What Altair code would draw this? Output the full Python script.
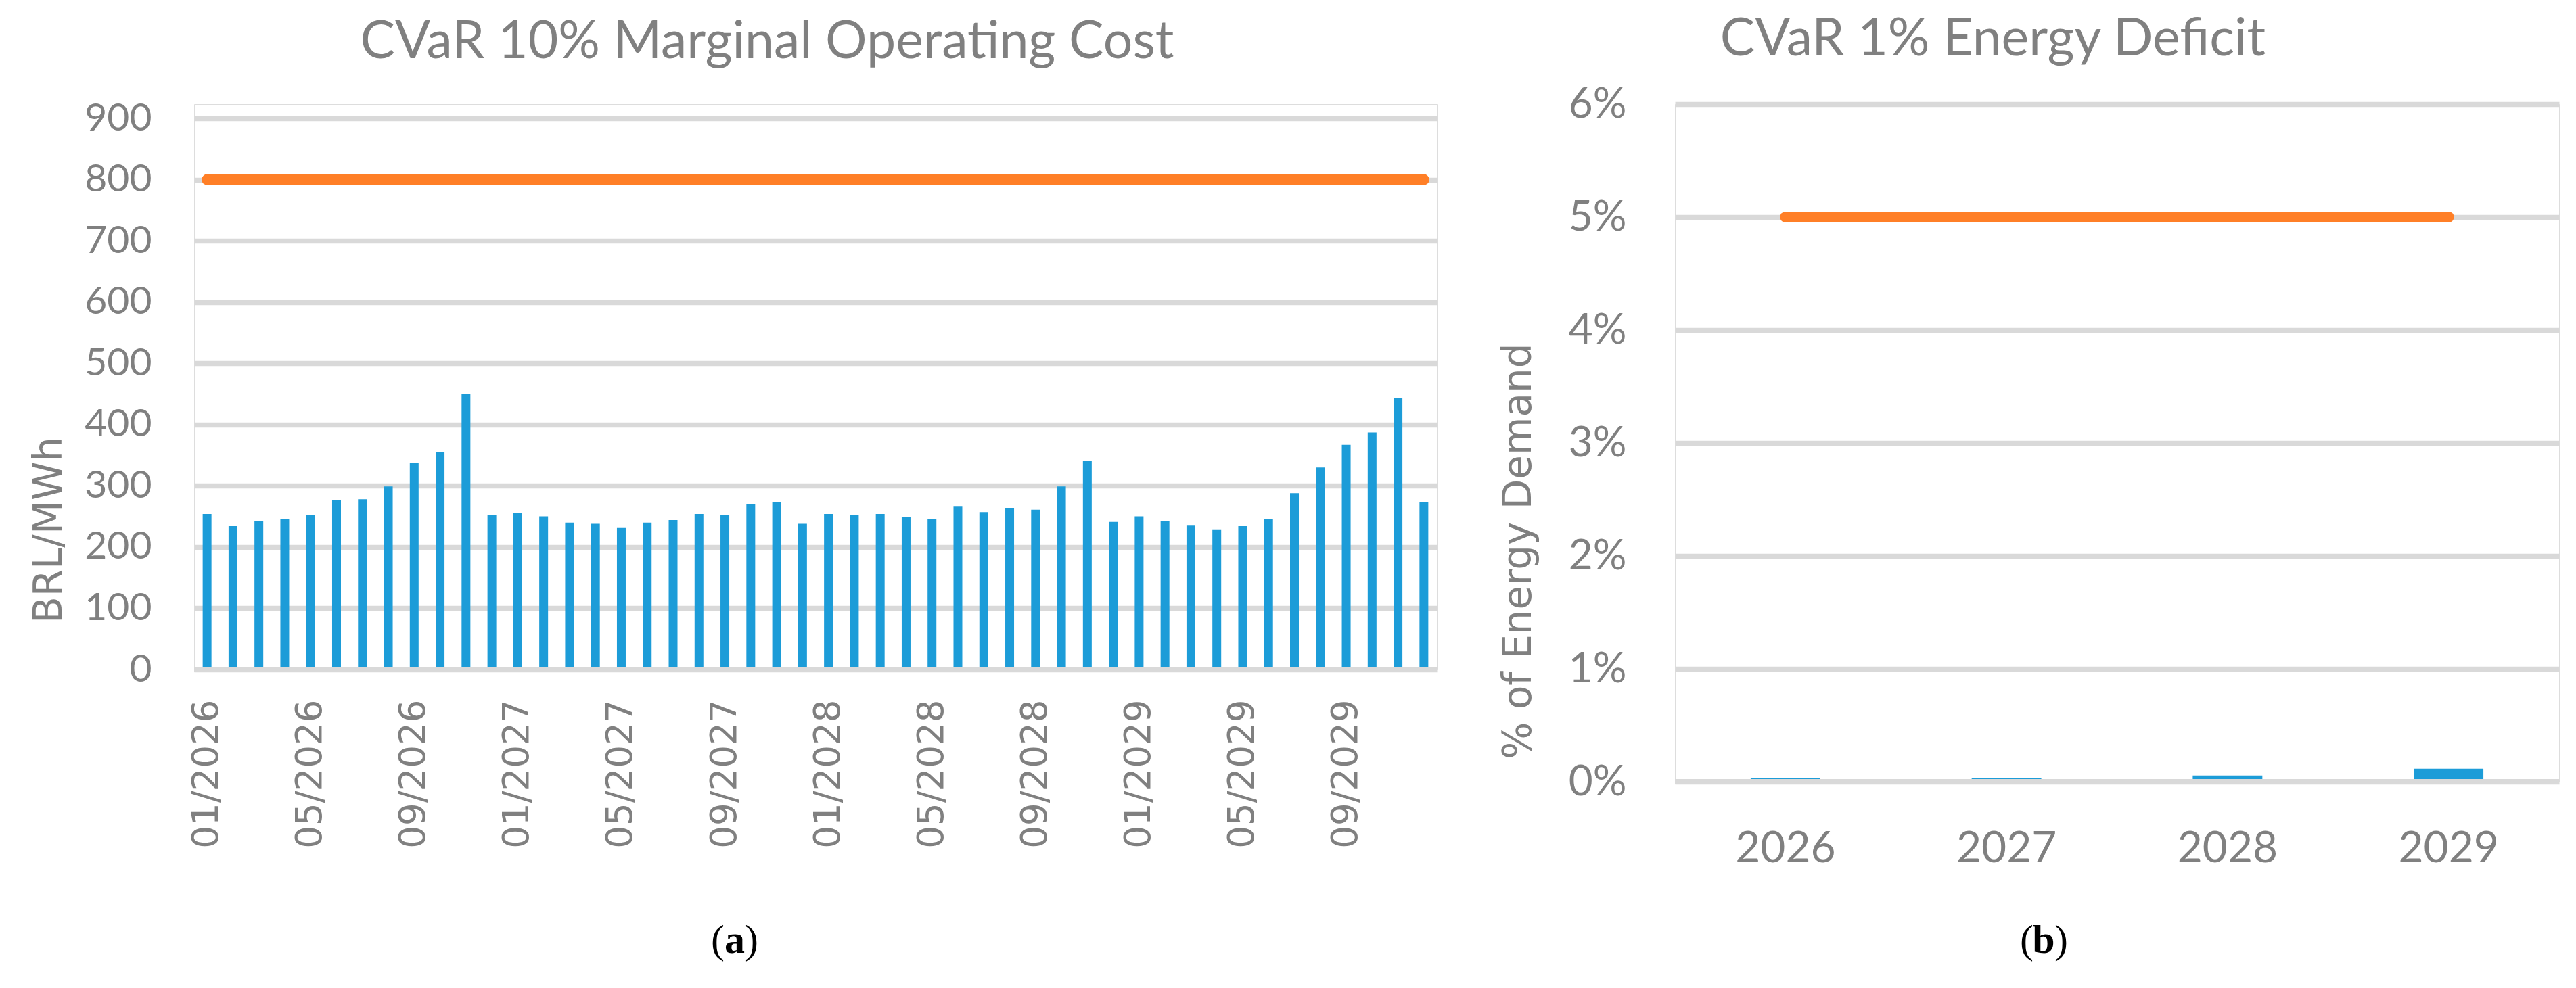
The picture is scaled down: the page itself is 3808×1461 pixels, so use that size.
import altair as alt
import pandas as pd

# ---------------- data ----------------
months = [
    "01/2026", "02/2026", "03/2026", "04/2026", "05/2026", "06/2026",
    "07/2026", "08/2026", "09/2026", "10/2026", "11/2026", "12/2026",
    "01/2027", "02/2027", "03/2027", "04/2027", "05/2027", "06/2027",
    "07/2027", "08/2027", "09/2027", "10/2027", "11/2027", "12/2027",
    "01/2028", "02/2028", "03/2028", "04/2028", "05/2028", "06/2028",
    "07/2028", "08/2028", "09/2028", "10/2028", "11/2028", "12/2028",
    "01/2029", "02/2029", "03/2029", "04/2029", "05/2029", "06/2029",
    "07/2029", "08/2029", "09/2029", "10/2029", "11/2029", "12/2029",
]
cvar_cost = [
    254, 234, 242, 246, 253, 276, 278, 299, 337, 355, 450, 253,
    255, 250, 240, 238, 231, 240, 244, 254, 252, 270, 273, 238,
    254, 253, 254, 249, 246, 267, 257, 264, 261, 299, 341, 241,
    250, 242, 235, 229, 234, 246, 288, 330, 367, 387, 443, 273,
]
cost_limit = [800] * len(months)
month_ticks = ["01/2026", "05/2026", "09/2026", "01/2027", "05/2027", "09/2027",
               "01/2028", "05/2028", "09/2028", "01/2029", "05/2029", "09/2029"]

years = ["2026", "2027", "2028", "2029"]
cvar_deficit = [0.03, 0.03, 0.055, 0.115]   # % of energy demand
deficit_limit = [5, 5, 5, 5]

title_a = "CVaR 10% Marginal Operating Cost"
title_b = "CVaR 1% Energy Deficit"

BLUE = "#1C9CD8"
ORANGE = "#FF7F27"
GRID = "#D9D9D9"
TXT = "#808080"

df_a = pd.DataFrame({"month": months, "cost": cvar_cost, "limit": cost_limit})
df_b = pd.DataFrame({"year": years, "deficit": cvar_deficit, "limit": deficit_limit})

# ---------------- panel (a) ----------------
WA, HA = 1837, 836
ya_max = 900 * HA / 815.0

xa = alt.X("month:N", sort=months, title=None,
           scale=alt.Scale(paddingInner=0.66, paddingOuter=0.33),
           axis=alt.Axis(values=month_ticks, labelAngle=270, labelFont="DejaVu Sans",
                         labelFontSize=53, labelColor=TXT, labelPadding=44, labelLimit=0,
                         ticks=False, tickSize=0, domain=False, grid=False))
ya = alt.Scale(domain=[0, ya_max], nice=False, zero=True)
ya_axis = alt.Axis(values=list(range(0, 901, 100)), labelFont="Lato", labelFontSize=57,
                   labelColor=TXT, labelPadding=63, ticks=False, tickSize=0,
                   domain=False, grid=True, gridColor=GRID, gridWidth=7.5)

base_a = alt.Chart(df_a)
bars_a = base_a.mark_bar(color=BLUE).encode(
    x=xa, y=alt.Y("cost:Q", scale=ya, axis=ya_axis, title=None))
zero_a = base_a.mark_rule(color=GRID, strokeWidth=7.5).encode(y=alt.datum(0))
line_a = base_a.mark_line(color=ORANGE, strokeWidth=16, strokeCap="round").encode(
    x=alt.X("month:N", sort=months), y=alt.Y("limit:Q"))

one = pd.DataFrame({"t": [0]})
anchor_a = alt.Chart(one).mark_rule(color="white", strokeWidth=1).encode(
    x=alt.value(-277.5), y=alt.value(-144.5), y2=alt.value(-140))
ttl_a = alt.Chart(one).mark_text(font="Lato", fontSize=77, color=TXT,
                                 align="center", baseline="middle").encode(
    x=alt.value(847), y=alt.value(-91), text=alt.value(title_a))
ytl_a = alt.Chart(one).mark_text(font="DejaVu Sans", fontSize=58, color=TXT, angle=270,
                                 align="center", baseline="middle").encode(
    x=alt.value(-213), y=alt.value(630), text=alt.value("BRL/MWh"))
cap_a1 = alt.Chart(one).mark_text(font="Liberation Serif", fontSize=60, color="black",
                                  align="right", baseline="middle").encode(
    x=alt.value(784), y=alt.value(1237), text=alt.value("("))
cap_a2 = alt.Chart(one).mark_text(font="Liberation Serif", fontSize=60, color="black",
                                  fontWeight="bold", align="center", baseline="middle").encode(
    x=alt.value(799), y=alt.value(1237), text=alt.value("a"))
cap_a3 = alt.Chart(one).mark_text(font="Liberation Serif", fontSize=60, color="black",
                                  align="left", baseline="middle").encode(
    x=alt.value(814), y=alt.value(1237), text=alt.value(")"))

panel_a = alt.layer(bars_a, zero_a, line_a, anchor_a, ttl_a, ytl_a,
                    cap_a1, cap_a2, cap_a3).properties(width=WA, height=HA)

# ---------------- panel (b) ----------------
WB, HB = 1307, 1002
xb = alt.X("year:N", sort=years, title=None,
           scale=alt.Scale(paddingInner=0.685, paddingOuter=0.3425),
           axis=alt.Axis(labelAngle=0, labelFont="Lato", labelFontSize=64, labelColor=TXT,
                         labelPadding=67, ticks=False, tickSize=0, domain=False, grid=False))
yb = alt.Scale(domain=[0, 6], nice=False)
yb_axis = alt.Axis(values=[0, 1, 2, 3, 4, 5, 6], labelExpr="datum.value + '%'",
                   labelFont="Lato", labelFontSize=62, labelColor=TXT, labelPadding=72,
                   ticks=False, tickSize=0, domain=False, grid=True,
                   gridColor=GRID, gridWidth=7.5)

base_b = alt.Chart(df_b)
bars_b = base_b.mark_bar(color=BLUE).encode(
    x=xb, y=alt.Y("deficit:Q", scale=yb, axis=yb_axis, title=None))
zero_b = base_b.mark_rule(color=GRID, strokeWidth=7.5).encode(y=alt.datum(0))
line_b = base_b.mark_line(color=ORANGE, strokeWidth=16, strokeCap="round").encode(
    x=alt.X("year:N", sort=years), y=alt.Y("limit:Q"))
ttl_b = alt.Chart(one).mark_text(font="Lato", fontSize=77, color=TXT,
                                 align="center", baseline="middle").encode(
    x=alt.value(470), y=alt.value(-95), text=alt.value(title_b))
ytl_b = alt.Chart(one).mark_text(font="DejaVu Sans", fontSize=58, color=TXT, angle=270,
                                 align="center", baseline="middle").encode(
    x=alt.value(-230), y=alt.value(661), text=alt.value("% of Energy Demand"))
cap_b1 = alt.Chart(one).mark_text(font="Liberation Serif", fontSize=60, color="black",
                                  align="right", baseline="middle").encode(
    x=alt.value(530), y=alt.value(1237), text=alt.value("("))
cap_b2 = alt.Chart(one).mark_text(font="Liberation Serif", fontSize=60, color="black",
                                  fontWeight="bold", align="center", baseline="middle").encode(
    x=alt.value(545), y=alt.value(1237), text=alt.value("b"))
cap_b3 = alt.Chart(one).mark_text(font="Liberation Serif", fontSize=60, color="black",
                                  align="left", baseline="middle").encode(
    x=alt.value(561), y=alt.value(1237), text=alt.value(")"))

panel_b = alt.layer(bars_b, zero_b, line_b, ttl_b, ytl_b,
                    cap_b1, cap_b2, cap_b3).properties(width=WB, height=HB)

chart = alt.hconcat(panel_a, panel_b, spacing=352, bounds="flush").resolve_scale(
    x="independent", y="independent"
).properties(padding={"left": 0, "top": 0, "right": 0, "bottom": 0}).configure_view(
    stroke=None
).configure(background="white")

chart.save("out.html", embed_options={"renderer": "svg", "actions": False})
